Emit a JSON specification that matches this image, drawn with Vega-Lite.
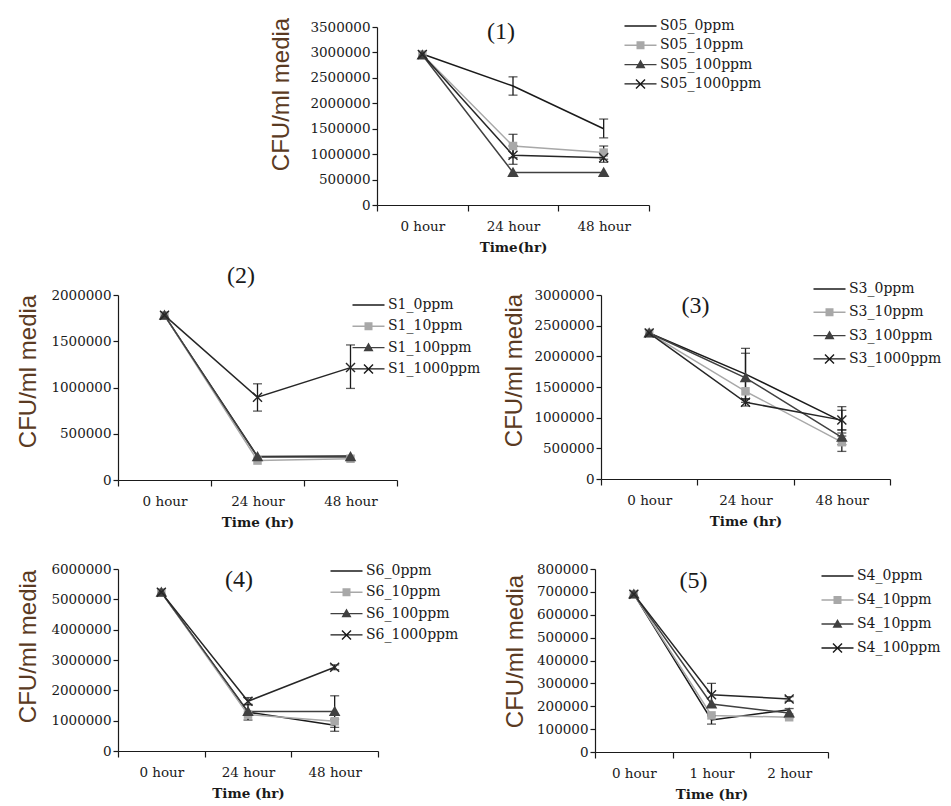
{
  "$schema": "https://vega.github.io/schema/vega-lite/v6.json",
  "background": "white",
  "padding": {"left": 15, "top": 17, "right": 0, "bottom": 0},
  "data": {"values": [
    {"panel": 1, "time": "0 hour", "treat": "0ppm", "value": 2970000},
    {"panel": 1, "time": "0 hour", "treat": "10ppm", "value": 2960000},
    {"panel": 1, "time": "0 hour", "treat": "100ppm", "value": 2950000},
    {"panel": 1, "time": "0 hour", "treat": "1000ppm", "value": 2960000},
    {"panel": 1, "time": "24 hour", "treat": "0ppm", "value": 2340000, "lo": 2160000, "hi": 2520000},
    {"panel": 1, "time": "24 hour", "treat": "10ppm", "value": 1160000, "lo": 930000, "hi": 1390000},
    {"panel": 1, "time": "24 hour", "treat": "100ppm", "value": 640000},
    {"panel": 1, "time": "24 hour", "treat": "1000ppm", "value": 980000, "lo": 800000, "hi": 1160000},
    {"panel": 1, "time": "48 hour", "treat": "0ppm", "value": 1500000, "lo": 1320000, "hi": 1690000},
    {"panel": 1, "time": "48 hour", "treat": "10ppm", "value": 1030000, "lo": 900000, "hi": 1160000},
    {"panel": 1, "time": "48 hour", "treat": "100ppm", "value": 640000},
    {"panel": 1, "time": "48 hour", "treat": "1000ppm", "value": 930000, "lo": 840000, "hi": 1020000},

    {"panel": 2, "time": "0 hour", "treat": "0ppm", "value": 1780000},
    {"panel": 2, "time": "0 hour", "treat": "10ppm", "value": 1780000},
    {"panel": 2, "time": "0 hour", "treat": "100ppm", "value": 1780000},
    {"panel": 2, "time": "0 hour", "treat": "1000ppm", "value": 1780000},
    {"panel": 2, "time": "24 hour", "treat": "0ppm", "value": 255000},
    {"panel": 2, "time": "24 hour", "treat": "10ppm", "value": 210000},
    {"panel": 2, "time": "24 hour", "treat": "100ppm", "value": 250000},
    {"panel": 2, "time": "24 hour", "treat": "1000ppm", "value": 895000, "lo": 745000, "hi": 1040000},
    {"panel": 2, "time": "48 hour", "treat": "0ppm", "value": 260000},
    {"panel": 2, "time": "48 hour", "treat": "10ppm", "value": 230000},
    {"panel": 2, "time": "48 hour", "treat": "100ppm", "value": 250000},
    {"panel": 2, "time": "48 hour", "treat": "1000ppm", "value": 1215000, "lo": 990000, "hi": 1460000},

    {"panel": 3, "time": "0 hour", "treat": "0ppm", "value": 2380000},
    {"panel": 3, "time": "0 hour", "treat": "10ppm", "value": 2380000},
    {"panel": 3, "time": "0 hour", "treat": "100ppm", "value": 2380000},
    {"panel": 3, "time": "0 hour", "treat": "1000ppm", "value": 2380000},
    {"panel": 3, "time": "24 hour", "treat": "0ppm", "value": 1710000, "lo": 1300000, "hi": 2130000},
    {"panel": 3, "time": "24 hour", "treat": "10ppm", "value": 1430000},
    {"panel": 3, "time": "24 hour", "treat": "100ppm", "value": 1650000, "lo": 1250000, "hi": 2050000},
    {"panel": 3, "time": "24 hour", "treat": "1000ppm", "value": 1250000, "lo": 1190000, "hi": 1310000},
    {"panel": 3, "time": "48 hour", "treat": "0ppm", "value": 940000, "lo": 700000, "hi": 1180000},
    {"panel": 3, "time": "48 hour", "treat": "10ppm", "value": 600000, "lo": 450000, "hi": 750000},
    {"panel": 3, "time": "48 hour", "treat": "100ppm", "value": 680000, "lo": 560000, "hi": 800000},
    {"panel": 3, "time": "48 hour", "treat": "1000ppm", "value": 960000, "lo": 800000, "hi": 1120000},

    {"panel": 4, "time": "0 hour", "treat": "0ppm", "value": 5230000},
    {"panel": 4, "time": "0 hour", "treat": "10ppm", "value": 5230000},
    {"panel": 4, "time": "0 hour", "treat": "100ppm", "value": 5230000},
    {"panel": 4, "time": "0 hour", "treat": "1000ppm", "value": 5230000},
    {"panel": 4, "time": "24 hour", "treat": "0ppm", "value": 1280000, "lo": 1020000, "hi": 1540000},
    {"panel": 4, "time": "24 hour", "treat": "10ppm", "value": 1200000},
    {"panel": 4, "time": "24 hour", "treat": "100ppm", "value": 1300000},
    {"panel": 4, "time": "24 hour", "treat": "1000ppm", "value": 1640000, "lo": 1520000, "hi": 1760000},
    {"panel": 4, "time": "48 hour", "treat": "0ppm", "value": 850000, "lo": 650000, "hi": 1050000},
    {"panel": 4, "time": "48 hour", "treat": "10ppm", "value": 980000},
    {"panel": 4, "time": "48 hour", "treat": "100ppm", "value": 1300000, "lo": 780000, "hi": 1820000},
    {"panel": 4, "time": "48 hour", "treat": "1000ppm", "value": 2760000, "lo": 2680000, "hi": 2840000},

    {"panel": 5, "time": "0 hour", "treat": "0ppm", "value": 690000},
    {"panel": 5, "time": "0 hour", "treat": "10ppm", "value": 690000},
    {"panel": 5, "time": "0 hour", "treat": "100ppm", "value": 690000},
    {"panel": 5, "time": "0 hour", "treat": "1000ppm", "value": 690000},
    {"panel": 5, "time": "1 hour", "treat": "0ppm", "value": 140000, "lo": 122000, "hi": 158000},
    {"panel": 5, "time": "1 hour", "treat": "10ppm", "value": 160000},
    {"panel": 5, "time": "1 hour", "treat": "100ppm", "value": 210000},
    {"panel": 5, "time": "1 hour", "treat": "1000ppm", "value": 250000, "lo": 200000, "hi": 300000},
    {"panel": 5, "time": "2 hour", "treat": "0ppm", "value": 185000},
    {"panel": 5, "time": "2 hour", "treat": "10ppm", "value": 152000},
    {"panel": 5, "time": "2 hour", "treat": "100ppm", "value": 170000, "lo": 150000, "hi": 190000},
    {"panel": 5, "time": "2 hour", "treat": "1000ppm", "value": 232000, "lo": 222000, "hi": 242000}
  ]},
  "spacing": 9,
  "resolve": {"scale": {"x": "independent", "y": "independent", "color": "independent"}, "axis": {"x": "independent", "y": "independent"}, "legend": {"color": "independent"}},
  "vconcat": [
    {
      "spacing": 150,
      "resolve": {"scale": {"x": "independent", "y": "independent", "color": "independent"}, "axis": {"x": "independent", "y": "independent"}, "legend": {"color": "independent"}},
      "hconcat": [
        {"width": 1, "height": 1, "data": {"values": [{}]}, "mark": {"type": "rect", "opacity": 0}, "encoding": {}},
        {
          "width": 272, "height": 178,
          "transform": [{"filter": "datum.panel === 1"}],
          "encoding": {
            "x": {"field": "time", "type": "nominal", "bandPosition": 0.5, "scale": {"type": "band", "paddingInner": 0, "paddingOuter": 0, "domain": ["0 hour", "24 hour", "48 hour"]}, "axis": {"title": "Time(hr)"}},
            "y": {"field": "value", "type": "quantitative", "scale": {"domain": [0, 3500000], "nice": false}, "axis": {"title": "CFU/ml media", "format": "d", "values": [0, 500000, 1000000, 1500000, 2000000, 2500000, 3000000, 3500000], "titleX": -96, "titleY": 67}}
          },
          "layer": [
            {"mark": {"type": "line", "strokeWidth": 1.5}, "encoding": {
              "color": {"field": "treat", "type": "nominal", "scale": {"domain": ["0ppm", "10ppm", "100ppm", "1000ppm"], "range": ["#1a1a1a", "#a8a8a8", "#404040", "#262626"]},
                "legend": {"orient": "none", "legendX": 256.5, "legendY": -8, "title": null, "rowPadding": 5.3, "labelExpr": "'S05_' + datum.label",
                  "encode": {"symbols": {"update": {"shape": {"signal": "datum.value==='10ppm'?'M-3.2,-0.14H3.2V0.14H-3.2ZM-0.8,-0.8H0.8V0.8H-0.8Z':datum.value==='100ppm'?'M-3.2,-0.14H3.2V0.14H-3.2ZM0,-1L1,0.75H-1Z':datum.value==='1000ppm'?'M-3.2,-0.14H3.2V0.14H-3.2ZM-1,-0.8L-0.8,-1L1,0.8L0.8,1ZM0.8,-1L1,-0.8L-0.8,1L-1,0.8Z':'M-3.2,-0.14H3.2V0.14H-3.2Z'"}, "fill": {"signal": "datum.value==='10ppm'?'#a8a8a8':datum.value==='100ppm'?'#404040':'#1a1a1a'"}, "strokeWidth": {"value": 0}, "size": {"value": 100}, "opacity": {"value": 1}}}}}}
            }},
            {"transform": [{"filter": "isValid(datum.lo)"}], "mark": {"type": "rule", "color": "#1a1a1a", "strokeWidth": 1.3}, "encoding": {"y": {"field": "lo", "type": "quantitative", "scale": {"domain": [0, 3500000], "nice": false}, "axis": {"title": "CFU/ml media", "format": "d", "values": [0, 500000, 1000000, 1500000, 2000000, 2500000, 3000000, 3500000], "titleX": -96, "titleY": 67}}, "y2": {"field": "hi"}}},
            {"transform": [{"filter": "isValid(datum.lo)"}], "mark": {"type": "tick", "color": "#1a1a1a", "thickness": 1.3, "size": 9, "orient": "horizontal"}, "encoding": {"y": {"field": "lo", "type": "quantitative", "scale": {"domain": [0, 3500000], "nice": false}, "axis": {"title": "CFU/ml media", "format": "d", "values": [0, 500000, 1000000, 1500000, 2000000, 2500000, 3000000, 3500000], "titleX": -96, "titleY": 67}}}},
            {"transform": [{"filter": "isValid(datum.hi)"}], "mark": {"type": "tick", "color": "#1a1a1a", "thickness": 1.3, "size": 9, "orient": "horizontal"}, "encoding": {"y": {"field": "hi", "type": "quantitative", "scale": {"domain": [0, 3500000], "nice": false}, "axis": {"title": "CFU/ml media", "format": "d", "values": [0, 500000, 1000000, 1500000, 2000000, 2500000, 3000000, 3500000], "titleX": -96, "titleY": 67}}}},
            {"transform": [{"filter": "datum.treat === '10ppm'"}], "mark": {"type": "point", "filled": true, "size": 100, "opacity": 1, "color": "#a8a8a8", "shape": "M-0.85,-0.85H0.85V0.85H-0.85Z"}},
            {"transform": [{"filter": "datum.treat === '100ppm'"}], "mark": {"type": "point", "filled": true, "size": 110, "opacity": 1, "color": "#404040", "shape": "M0,-1.1L1.1,0.85H-1.1Z"}},
            {"transform": [{"filter": "datum.treat === '1000ppm'"}], "mark": {"type": "point", "filled": true, "size": 100, "opacity": 1, "color": "#262626", "shape": "M-1,-0.8L-0.8,-1L1,0.8L0.8,1ZM0.8,-1L1,-0.8L-0.8,1L-1,0.8Z"}},
            {"transform": [{"filter": "datum.time === '24 hour' && datum.treat === '0ppm'"}], "mark": {"type": "text", "text": "(1)", "font": "Liberation Serif", "fontSize": 24, "dx": -12, "color": "#1a1a1a", "baseline": "middle"}, "encoding": {
              "y": {"datum": 3400000, "type": "quantitative", "scale": {"domain": [0, 3500000], "nice": false}, "axis": {"title": "CFU/ml media", "format": "d", "values": [0, 500000, 1000000, 1500000, 2000000, 2500000, 3000000, 3500000], "titleX": -96, "titleY": 67}}}}
          ]
        }
      ]
    },
    {
      "spacing": 33,
      "resolve": {"scale": {"x": "independent", "y": "independent", "color": "independent"}, "axis": {"x": "independent", "y": "independent"}, "legend": {"color": "independent"}},
      "vconcat": [
        {
          "spacing": 21,
          "resolve": {"scale": {"x": "independent", "y": "independent", "color": "independent"}, "axis": {"x": "independent", "y": "independent"}, "legend": {"color": "independent"}},
          "hconcat": [
            {
              "width": 279, "height": 185,
              "transform": [{"filter": "datum.panel === 2"}],
              "encoding": {
                "x": {"field": "time", "type": "nominal", "bandPosition": 0.5, "scale": {"type": "band", "paddingInner": 0, "paddingOuter": 0, "domain": ["0 hour", "24 hour", "48 hour"]}, "axis": {"title": "Time (hr)"}},
                "y": {"field": "value", "type": "quantitative", "scale": {"domain": [0, 2000000], "nice": false}, "axis": {"title": "CFU/ml media", "format": "d", "values": [0, 500000, 1000000, 1500000, 2000000], "titleX": -90, "titleY": 76}}
              },
              "layer": [
                {"mark": {"type": "line", "strokeWidth": 1.5}, "encoding": {
                  "color": {"field": "treat", "type": "nominal", "scale": {"domain": ["0ppm", "10ppm", "100ppm", "1000ppm"], "range": ["#1a1a1a", "#a8a8a8", "#404040", "#262626"]},
                    "legend": {"orient": "none", "legendX": 243.5, "legendY": 3, "title": null, "rowPadding": 7.3, "labelExpr": "'S1_' + datum.label",
                      "encode": {"symbols": {"update": {"shape": {"signal": "datum.value==='10ppm'?'M-3.2,-0.14H3.2V0.14H-3.2ZM-0.8,-0.8H0.8V0.8H-0.8Z':datum.value==='100ppm'?'M-3.2,-0.14H3.2V0.14H-3.2ZM0,-1L1,0.75H-1Z':datum.value==='1000ppm'?'M-3.2,-0.14H3.2V0.14H-3.2ZM-1,-0.8L-0.8,-1L1,0.8L0.8,1ZM0.8,-1L1,-0.8L-0.8,1L-1,0.8Z':'M-3.2,-0.14H3.2V0.14H-3.2Z'"}, "fill": {"signal": "datum.value==='10ppm'?'#a8a8a8':datum.value==='100ppm'?'#404040':'#1a1a1a'"}, "strokeWidth": {"value": 0}, "size": {"value": 100}, "opacity": {"value": 1}}}}}}
                }},
                {"transform": [{"filter": "isValid(datum.lo)"}], "mark": {"type": "rule", "color": "#1a1a1a", "strokeWidth": 1.3}, "encoding": {"y": {"field": "lo", "type": "quantitative", "scale": {"domain": [0, 2000000], "nice": false}, "axis": {"title": "CFU/ml media", "format": "d", "values": [0, 500000, 1000000, 1500000, 2000000], "titleX": -90, "titleY": 76}}, "y2": {"field": "hi"}}},
                {"transform": [{"filter": "isValid(datum.lo)"}], "mark": {"type": "tick", "color": "#1a1a1a", "thickness": 1.3, "size": 9, "orient": "horizontal"}, "encoding": {"y": {"field": "lo", "type": "quantitative", "scale": {"domain": [0, 2000000], "nice": false}, "axis": {"title": "CFU/ml media", "format": "d", "values": [0, 500000, 1000000, 1500000, 2000000], "titleX": -90, "titleY": 76}}}},
                {"transform": [{"filter": "isValid(datum.hi)"}], "mark": {"type": "tick", "color": "#1a1a1a", "thickness": 1.3, "size": 9, "orient": "horizontal"}, "encoding": {"y": {"field": "hi", "type": "quantitative", "scale": {"domain": [0, 2000000], "nice": false}, "axis": {"title": "CFU/ml media", "format": "d", "values": [0, 500000, 1000000, 1500000, 2000000], "titleX": -90, "titleY": 76}}}},
                {"transform": [{"filter": "datum.treat === '10ppm'"}], "mark": {"type": "point", "filled": true, "size": 100, "opacity": 1, "color": "#a8a8a8", "shape": "M-0.85,-0.85H0.85V0.85H-0.85Z"}},
                {"transform": [{"filter": "datum.treat === '100ppm'"}], "mark": {"type": "point", "filled": true, "size": 110, "opacity": 1, "color": "#404040", "shape": "M0,-1.1L1.1,0.85H-1.1Z"}},
                {"transform": [{"filter": "datum.treat === '1000ppm'"}], "mark": {"type": "point", "filled": true, "size": 100, "opacity": 1, "color": "#262626", "shape": "M-1,-0.8L-0.8,-1L1,0.8L0.8,1ZM0.8,-1L1,-0.8L-0.8,1L-1,0.8Z"}},
                {"transform": [{"filter": "datum.time === '24 hour' && datum.treat === '0ppm'"}], "mark": {"type": "text", "text": "(2)", "font": "Liberation Serif", "fontSize": 24, "dx": -16.5, "color": "#1a1a1a", "baseline": "middle"}, "encoding": {
                  "y": {"datum": 2210000, "type": "quantitative", "scale": {"domain": [0, 2000000], "nice": false}, "axis": {"title": "CFU/ml media", "format": "d", "values": [0, 500000, 1000000, 1500000, 2000000], "titleX": -90, "titleY": 76}}}}
              ]
            },
            {
              "width": 289, "height": 184,
              "transform": [{"filter": "datum.panel === 3"}],
              "encoding": {
                "x": {"field": "time", "type": "nominal", "bandPosition": 0.5, "scale": {"type": "band", "paddingInner": 0, "paddingOuter": 0, "domain": ["0 hour", "24 hour", "48 hour"]}, "axis": {"title": "Time (hr)"}},
                "y": {"field": "value", "type": "quantitative", "scale": {"domain": [0, 3000000], "nice": false}, "axis": {"title": "CFU/ml media", "format": "d", "values": [0, 500000, 1000000, 1500000, 2000000, 2500000, 3000000], "titleX": -87, "titleY": 75}}
              },
              "layer": [
                {"mark": {"type": "line", "strokeWidth": 1.5}, "encoding": {
                  "color": {"field": "treat", "type": "nominal", "scale": {"domain": ["0ppm", "10ppm", "100ppm", "1000ppm"], "range": ["#1a1a1a", "#a8a8a8", "#404040", "#262626"]},
                    "legend": {"orient": "none", "legendX": 221.5, "legendY": -13, "title": null, "rowPadding": 9.3, "labelExpr": "'S3_' + datum.label",
                      "encode": {"symbols": {"update": {"shape": {"signal": "datum.value==='10ppm'?'M-3.2,-0.14H3.2V0.14H-3.2ZM-0.8,-0.8H0.8V0.8H-0.8Z':datum.value==='100ppm'?'M-3.2,-0.14H3.2V0.14H-3.2ZM0,-1L1,0.75H-1Z':datum.value==='1000ppm'?'M-3.2,-0.14H3.2V0.14H-3.2ZM-1,-0.8L-0.8,-1L1,0.8L0.8,1ZM0.8,-1L1,-0.8L-0.8,1L-1,0.8Z':'M-3.2,-0.14H3.2V0.14H-3.2Z'"}, "fill": {"signal": "datum.value==='10ppm'?'#a8a8a8':datum.value==='100ppm'?'#404040':'#1a1a1a'"}, "strokeWidth": {"value": 0}, "size": {"value": 100}, "opacity": {"value": 1}}}}}}
                }},
                {"transform": [{"filter": "isValid(datum.lo)"}], "mark": {"type": "rule", "color": "#1a1a1a", "strokeWidth": 1.3}, "encoding": {"y": {"field": "lo", "type": "quantitative", "scale": {"domain": [0, 3000000], "nice": false}, "axis": {"title": "CFU/ml media", "format": "d", "values": [0, 500000, 1000000, 1500000, 2000000, 2500000, 3000000], "titleX": -87, "titleY": 75}}, "y2": {"field": "hi"}}},
                {"transform": [{"filter": "isValid(datum.lo)"}], "mark": {"type": "tick", "color": "#1a1a1a", "thickness": 1.3, "size": 9, "orient": "horizontal"}, "encoding": {"y": {"field": "lo", "type": "quantitative", "scale": {"domain": [0, 3000000], "nice": false}, "axis": {"title": "CFU/ml media", "format": "d", "values": [0, 500000, 1000000, 1500000, 2000000, 2500000, 3000000], "titleX": -87, "titleY": 75}}}},
                {"transform": [{"filter": "isValid(datum.hi)"}], "mark": {"type": "tick", "color": "#1a1a1a", "thickness": 1.3, "size": 9, "orient": "horizontal"}, "encoding": {"y": {"field": "hi", "type": "quantitative", "scale": {"domain": [0, 3000000], "nice": false}, "axis": {"title": "CFU/ml media", "format": "d", "values": [0, 500000, 1000000, 1500000, 2000000, 2500000, 3000000], "titleX": -87, "titleY": 75}}}},
                {"transform": [{"filter": "datum.treat === '10ppm'"}], "mark": {"type": "point", "filled": true, "size": 100, "opacity": 1, "color": "#a8a8a8", "shape": "M-0.85,-0.85H0.85V0.85H-0.85Z"}},
                {"transform": [{"filter": "datum.treat === '100ppm'"}], "mark": {"type": "point", "filled": true, "size": 110, "opacity": 1, "color": "#404040", "shape": "M0,-1.1L1.1,0.85H-1.1Z"}},
                {"transform": [{"filter": "datum.treat === '1000ppm'"}], "mark": {"type": "point", "filled": true, "size": 100, "opacity": 1, "color": "#262626", "shape": "M-1,-0.8L-0.8,-1L1,0.8L0.8,1ZM0.8,-1L1,-0.8L-0.8,1L-1,0.8Z"}},
                {"transform": [{"filter": "datum.time === '24 hour' && datum.treat === '0ppm'"}], "mark": {"type": "text", "text": "(3)", "font": "Liberation Serif", "fontSize": 24, "dx": -50, "color": "#1a1a1a", "baseline": "middle"}, "encoding": {
                  "y": {"datum": 2820000, "type": "quantitative", "scale": {"domain": [0, 3000000], "nice": false}, "axis": {"title": "CFU/ml media", "format": "d", "values": [0, 500000, 1000000, 1500000, 2000000, 2500000, 3000000], "titleX": -87, "titleY": 75}}}}
              ]
            }
          ]
        },
        {
          "spacing": 43,
          "resolve": {"scale": {"x": "independent", "y": "independent", "color": "independent"}, "axis": {"x": "independent", "y": "independent"}, "legend": {"color": "independent"}},
          "hconcat": [
            {
              "width": 260, "height": 182,
              "transform": [{"filter": "datum.panel === 4"}],
              "encoding": {
                "x": {"field": "time", "type": "nominal", "bandPosition": 0.5, "scale": {"type": "band", "paddingInner": 0, "paddingOuter": 0, "domain": ["0 hour", "24 hour", "48 hour"]}, "axis": {"title": "Time (hr)"}},
                "y": {"field": "value", "type": "quantitative", "scale": {"domain": [0, 6000000], "nice": false}, "axis": {"title": "CFU/ml media", "format": "d", "values": [0, 1000000, 2000000, 3000000, 4000000, 5000000, 6000000], "titleX": -90, "titleY": 77}}
              },
              "layer": [
                {"mark": {"type": "line", "strokeWidth": 1.5}, "encoding": {
                  "color": {"field": "treat", "type": "nominal", "scale": {"domain": ["0ppm", "10ppm", "100ppm", "1000ppm"], "range": ["#1a1a1a", "#a8a8a8", "#404040", "#262626"]},
                    "legend": {"orient": "none", "legendX": 221.5, "legendY": -5, "title": null, "rowPadding": 7.3, "labelExpr": "'S6_' + datum.label",
                      "encode": {"symbols": {"update": {"shape": {"signal": "datum.value==='10ppm'?'M-3.2,-0.14H3.2V0.14H-3.2ZM-0.8,-0.8H0.8V0.8H-0.8Z':datum.value==='100ppm'?'M-3.2,-0.14H3.2V0.14H-3.2ZM0,-1L1,0.75H-1Z':datum.value==='1000ppm'?'M-3.2,-0.14H3.2V0.14H-3.2ZM-1,-0.8L-0.8,-1L1,0.8L0.8,1ZM0.8,-1L1,-0.8L-0.8,1L-1,0.8Z':'M-3.2,-0.14H3.2V0.14H-3.2Z'"}, "fill": {"signal": "datum.value==='10ppm'?'#a8a8a8':datum.value==='100ppm'?'#404040':'#1a1a1a'"}, "strokeWidth": {"value": 0}, "size": {"value": 100}, "opacity": {"value": 1}}}}}}
                }},
                {"transform": [{"filter": "isValid(datum.lo)"}], "mark": {"type": "rule", "color": "#1a1a1a", "strokeWidth": 1.3}, "encoding": {"y": {"field": "lo", "type": "quantitative", "scale": {"domain": [0, 6000000], "nice": false}, "axis": {"title": "CFU/ml media", "format": "d", "values": [0, 1000000, 2000000, 3000000, 4000000, 5000000, 6000000], "titleX": -90, "titleY": 77}}, "y2": {"field": "hi"}}},
                {"transform": [{"filter": "isValid(datum.lo)"}], "mark": {"type": "tick", "color": "#1a1a1a", "thickness": 1.3, "size": 9, "orient": "horizontal"}, "encoding": {"y": {"field": "lo", "type": "quantitative", "scale": {"domain": [0, 6000000], "nice": false}, "axis": {"title": "CFU/ml media", "format": "d", "values": [0, 1000000, 2000000, 3000000, 4000000, 5000000, 6000000], "titleX": -90, "titleY": 77}}}},
                {"transform": [{"filter": "isValid(datum.hi)"}], "mark": {"type": "tick", "color": "#1a1a1a", "thickness": 1.3, "size": 9, "orient": "horizontal"}, "encoding": {"y": {"field": "hi", "type": "quantitative", "scale": {"domain": [0, 6000000], "nice": false}, "axis": {"title": "CFU/ml media", "format": "d", "values": [0, 1000000, 2000000, 3000000, 4000000, 5000000, 6000000], "titleX": -90, "titleY": 77}}}},
                {"transform": [{"filter": "datum.treat === '10ppm'"}], "mark": {"type": "point", "filled": true, "size": 100, "opacity": 1, "color": "#a8a8a8", "shape": "M-0.85,-0.85H0.85V0.85H-0.85Z"}},
                {"transform": [{"filter": "datum.treat === '100ppm'"}], "mark": {"type": "point", "filled": true, "size": 110, "opacity": 1, "color": "#404040", "shape": "M0,-1.1L1.1,0.85H-1.1Z"}},
                {"transform": [{"filter": "datum.treat === '1000ppm'"}], "mark": {"type": "point", "filled": true, "size": 100, "opacity": 1, "color": "#262626", "shape": "M-1,-0.8L-0.8,-1L1,0.8L0.8,1ZM0.8,-1L1,-0.8L-0.8,1L-1,0.8Z"}},
                {"transform": [{"filter": "datum.time === '24 hour' && datum.treat === '0ppm'"}], "mark": {"type": "text", "text": "(4)", "font": "Liberation Serif", "fontSize": 24, "dx": -9, "color": "#1a1a1a", "baseline": "middle"}, "encoding": {
                  "y": {"datum": 5640000, "type": "quantitative", "scale": {"domain": [0, 6000000], "nice": false}, "axis": {"title": "CFU/ml media", "format": "d", "values": [0, 1000000, 2000000, 3000000, 4000000, 5000000, 6000000], "titleX": -90, "titleY": 77}}}}
              ]
            },
            {
              "width": 233, "height": 183,
              "transform": [{"filter": "datum.panel === 5"}],
              "encoding": {
                "x": {"field": "time", "type": "nominal", "bandPosition": 0.5, "scale": {"type": "band", "paddingInner": 0, "paddingOuter": 0, "domain": ["0 hour", "1 hour", "2 hour"]}, "axis": {"title": "Time (hr)"}},
                "y": {"field": "value", "type": "quantitative", "scale": {"domain": [0, 800000], "nice": false}, "axis": {"title": "CFU/ml media", "format": "d", "values": [0, 100000, 200000, 300000, 400000, 500000, 600000, 700000, 800000], "titleX": -80, "titleY": 82}}
              },
              "layer": [
                {"mark": {"type": "line", "strokeWidth": 1.5}, "encoding": {
                  "color": {"field": "treat", "type": "nominal", "scale": {"domain": ["0ppm", "10ppm", "100ppm", "1000ppm"], "range": ["#1a1a1a", "#a8a8a8", "#404040", "#262626"]},
                    "legend": {"orient": "none", "legendX": 235.5, "legendY": 0, "title": null, "rowPadding": 10, "labelExpr": "datum.label === '100ppm' ? 'S4_10ppm' : datum.label === '1000ppm' ? 'S4_100ppm' : 'S4_' + datum.label",
                      "encode": {"symbols": {"update": {"shape": {"signal": "datum.value==='10ppm'?'M-3.2,-0.14H3.2V0.14H-3.2ZM-0.8,-0.8H0.8V0.8H-0.8Z':datum.value==='100ppm'?'M-3.2,-0.14H3.2V0.14H-3.2ZM0,-1L1,0.75H-1Z':datum.value==='1000ppm'?'M-3.2,-0.14H3.2V0.14H-3.2ZM-1,-0.8L-0.8,-1L1,0.8L0.8,1ZM0.8,-1L1,-0.8L-0.8,1L-1,0.8Z':'M-3.2,-0.14H3.2V0.14H-3.2Z'"}, "fill": {"signal": "datum.value==='10ppm'?'#a8a8a8':datum.value==='100ppm'?'#404040':'#1a1a1a'"}, "strokeWidth": {"value": 0}, "size": {"value": 100}, "opacity": {"value": 1}}}}}}
                }},
                {"transform": [{"filter": "isValid(datum.lo)"}], "mark": {"type": "rule", "color": "#1a1a1a", "strokeWidth": 1.3}, "encoding": {"y": {"field": "lo", "type": "quantitative", "scale": {"domain": [0, 800000], "nice": false}, "axis": {"title": "CFU/ml media", "format": "d", "values": [0, 100000, 200000, 300000, 400000, 500000, 600000, 700000, 800000], "titleX": -80, "titleY": 82}}, "y2": {"field": "hi"}}},
                {"transform": [{"filter": "isValid(datum.lo)"}], "mark": {"type": "tick", "color": "#1a1a1a", "thickness": 1.3, "size": 9, "orient": "horizontal"}, "encoding": {"y": {"field": "lo", "type": "quantitative", "scale": {"domain": [0, 800000], "nice": false}, "axis": {"title": "CFU/ml media", "format": "d", "values": [0, 100000, 200000, 300000, 400000, 500000, 600000, 700000, 800000], "titleX": -80, "titleY": 82}}}},
                {"transform": [{"filter": "isValid(datum.hi)"}], "mark": {"type": "tick", "color": "#1a1a1a", "thickness": 1.3, "size": 9, "orient": "horizontal"}, "encoding": {"y": {"field": "hi", "type": "quantitative", "scale": {"domain": [0, 800000], "nice": false}, "axis": {"title": "CFU/ml media", "format": "d", "values": [0, 100000, 200000, 300000, 400000, 500000, 600000, 700000, 800000], "titleX": -80, "titleY": 82}}}},
                {"transform": [{"filter": "datum.treat === '10ppm'"}], "mark": {"type": "point", "filled": true, "size": 100, "opacity": 1, "color": "#a8a8a8", "shape": "M-0.85,-0.85H0.85V0.85H-0.85Z"}},
                {"transform": [{"filter": "datum.treat === '100ppm'"}], "mark": {"type": "point", "filled": true, "size": 110, "opacity": 1, "color": "#404040", "shape": "M0,-1.1L1.1,0.85H-1.1Z"}},
                {"transform": [{"filter": "datum.treat === '1000ppm'"}], "mark": {"type": "point", "filled": true, "size": 100, "opacity": 1, "color": "#262626", "shape": "M-1,-0.8L-0.8,-1L1,0.8L0.8,1ZM0.8,-1L1,-0.8L-0.8,1L-1,0.8Z"}},
                {"transform": [{"filter": "datum.time === '1 hour' && datum.treat === '0ppm'"}], "mark": {"type": "text", "text": "(5)", "font": "Liberation Serif", "fontSize": 24, "dx": -18, "color": "#1a1a1a", "baseline": "middle"}, "encoding": {
                  "y": {"datum": 747000, "type": "quantitative", "scale": {"domain": [0, 800000], "nice": false}, "axis": {"title": "CFU/ml media", "format": "d", "values": [0, 100000, 200000, 300000, 400000, 500000, 600000, 700000, 800000], "titleX": -80, "titleY": 82}}}}
              ]
            }
          ]
        }
      ]
    }
  ],
  "config": {
    "view": {"stroke": null},
    "axis": {"domainColor": "#1a1a1a", "tickColor": "#1a1a1a", "labelColor": "#1a1a1a", "labelFont": "DejaVu Serif", "labelFontSize": 13.5, "grid": false, "domainWidth": 1.2, "tickWidth": 1.2, "labelOverlap": false},
    "axisY": {"tickSize": 5, "labelPadding": 2, "titleFont": "Liberation Sans", "titleFontSize": 24, "titleFontWeight": "normal", "titleColor": "#5a3a22", "titleBaseline": "middle", "titleAlign": "center", "titleAngle": -90},
    "axisX": {"tickSize": 6, "labelPadding": 8, "labelAngle": 0, "titleFont": "DejaVu Serif", "titleFontWeight": "bold", "titleFontSize": 13.5, "titleColor": "#1a1a1a", "titlePadding": 8, "tickBand": "extent"},
    "legend": {"labelFont": "DejaVu Serif", "labelFontSize": 14, "labelColor": "#1a1a1a", "symbolSize": 100, "padding": 0, "labelOffset": 12.5, "symbolStrokeWidth": 0}
  }
}
